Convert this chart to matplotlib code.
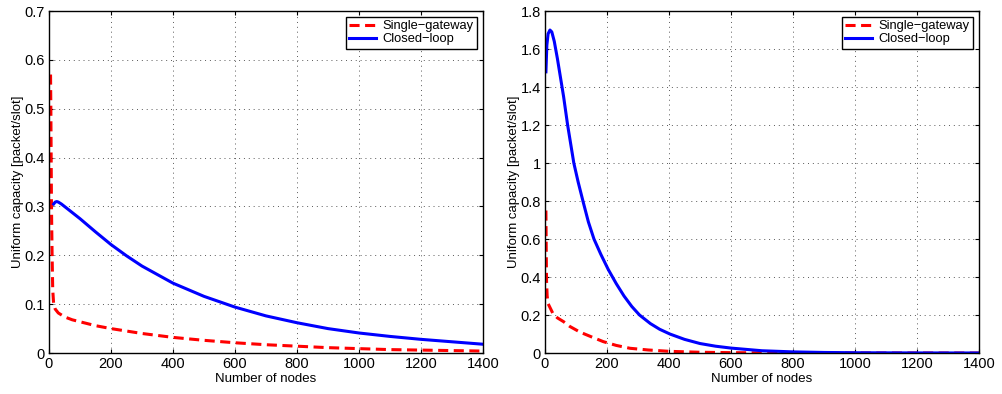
import numpy as np
import matplotlib
matplotlib.use('Agg')
import matplotlib.pyplot as plt

plt.rcParams['font.family'] = ['Liberation Sans', 'DejaVu Sans']

#data---left panel-------------------------------------------------------------
n_sg1 = [5, 6, 7, 8, 10, 12, 15, 20, 30, 50, 75, 100, 150, 200, 300, 400, 500,
         600, 700, 800, 900, 1000, 1100, 1200, 1300, 1400]
c_sg1 = [0.57, 0.50, 0.40, 0.30, 0.20, 0.13, 0.10, 0.09, 0.082, 0.074, 0.068,
         0.064, 0.056, 0.050, 0.040, 0.032, 0.026, 0.021, 0.017, 0.014, 0.011,
         0.009, 0.007, 0.006, 0.005, 0.004]
n_cl1 = [15, 20, 25, 30, 40, 60, 80, 100, 150, 200, 250, 300, 400, 500, 600,
         700, 800, 900, 1000, 1100, 1200, 1300, 1400]
c_cl1 = [0.305, 0.309, 0.310, 0.309, 0.305, 0.295, 0.285, 0.275, 0.248, 0.222,
         0.199, 0.178, 0.143, 0.116, 0.094, 0.076, 0.062, 0.050, 0.041, 0.034,
         0.028, 0.023, 0.018]

#data---right panel------------------------------------------------------------
n_sg2 = [3, 4, 5, 7, 10, 16, 25, 40, 60, 80, 113, 150, 188, 230, 274, 333, 400,
         500, 600, 700, 800, 1000, 1200, 1400]
c_sg2 = [0.75, 0.55, 0.38, 0.30, 0.26, 0.24, 0.21, 0.185, 0.165, 0.14, 0.11,
         0.085, 0.06, 0.04, 0.025, 0.016, 0.009, 0.004, 0.002, 0.001, 0.0005,
         0.0002, 0.0001, 0.0]
n_cl2 = [3, 6, 10, 16, 22, 30, 40, 50, 60, 73, 85, 93, 107, 124, 140, 158, 180,
         204, 230, 255, 280, 305, 340, 370, 403, 450, 500, 550, 600, 700, 800,
         900, 1000, 1200, 1400]
c_cl2 = [1.48, 1.62, 1.68, 1.70, 1.69, 1.64, 1.55, 1.45, 1.35, 1.20, 1.08, 1.00,
         0.90, 0.79, 0.69, 0.60, 0.52, 0.44, 0.365, 0.30, 0.245, 0.20, 0.155,
         0.125, 0.10, 0.072, 0.050, 0.036, 0.026, 0.012, 0.006, 0.003, 0.0015,
         0.0005, 0.0002]

#plot---def--------------------------------------------------------------------
def panel(ax, n1, c1, n2, c2, ymax, ystep):
    ax.plot(n1, c1, '--', color='red', lw=2.2, dashes=(3.3, 1.8), label='Single\u2212gateway')
    ax.plot(n2, c2, '-', color='blue', lw=2.2, label='Closed\u2212loop')
    ax.set_xlim(0, 1400)
    ax.set_ylim(0, ymax)
    ax.set_xticks(np.arange(0, 1401, 200))
    yt = np.arange(0, ymax + 1e-9, ystep)
    ax.set_yticks(yt)
    ax.set_yticklabels([f"{v:g}" for v in yt])
    ax.grid(True, linestyle=(0, (1, 4)), color='0.35', linewidth=0.7)
    ax.tick_params(direction='in', length=3, top=True, right=True, labelsize=10.5, pad=3)
    for s in ax.spines.values():
        s.set_linewidth(1.0)
    ax.set_xlabel('Number of nodes', fontsize=9.5, labelpad=1)
    ax.set_ylabel('Uniform capacity [packet/slot]', fontsize=9.5, labelpad=0)
    leg = ax.legend(loc='upper right', fontsize=9.3, fancybox=False, framealpha=1,
                    edgecolor='black', handlelength=2.1, borderpad=0.25,
                    labelspacing=0.1, borderaxespad=0.45, handletextpad=0.5)
    leg.get_frame().set_linewidth(1.0)

fig = plt.figure(figsize=(10.02, 3.94), dpi=100)
ax1 = fig.add_axes([0.0489, 0.104, 0.4331, 0.868])
ax2 = fig.add_axes([0.5439, 0.104, 0.4331, 0.868])
panel(ax1, n_sg1, c_sg1, n_cl1, c_cl1, 0.7, 0.1)
panel(ax2, n_sg2, c_sg2, n_cl2, c_cl2, 1.8, 0.2)

fig.savefig('out.png', dpi=100)
